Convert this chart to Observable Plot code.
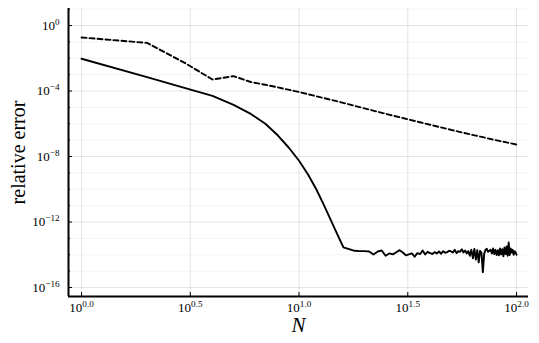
<!DOCTYPE html>
<html><head><meta charset="utf-8">
<script src="https://cdn.jsdelivr.net/npm/d3@7"></script>
<script src="https://cdn.jsdelivr.net/npm/@observablehq/plot@0.6"></script>
<style>
html,body{margin:0;padding:0;background:#fff;}
svg{overflow:visible;}
</style>
</head><body><div id="chart"></div>
<script>
// axis setup (exponents of 10)
const xTickExps = [0.0, 0.5, 1.0, 1.5, 2.0];
const xTickLabels = ["0.0", "0.5", "1.0", "1.5", "2.0"];
const yMajorExps = [0, -4, -8, -12, -16];
const yMajorLabels = ["0", "\u22124", "\u22128", "\u221212", "\u221216"];
const yMinorExps = [1, -1, -2, -3, -5, -6, -7, -9, -10, -11, -13, -14, -15];
const xDomainExps = [-0.06, 2.055];
const yDomainExps = [-16.55, 1.04];
const xLabel = "N";
const yLabel = "relative error";

// solid series: N and log10(relative error)
const solidN = [1,2,3,4,5,6,7,8,9,10,11,12,13,14,15,16,17,18,19,20,
  21,22,23,24,25,26,27,28,29,30,31,32,33,34,35,36,37,38,39,40,
  41,42,43,44,45,46,47,48,49,50,51,52,53,54,55,56,57,58,59,60,
  61,62,63,64,65,66,67,68,69,70,71,72,73,74,75,76,77,78,79,80,
  81,82,83,84,85,86,87,88,89,90,91,92,93,94,95,96,97,98,99,100];
const solidLog = [
  -2.03, -3.15, -3.82, -4.30, -4.85, -5.40, -6.00, -6.72, -7.48, -8.26,
  -9.10, -10.00, -10.95, -11.88, -12.75, -13.55, -13.66, -13.76, -13.78, -13.78,
  -13.80, -13.98, -13.80, -13.74, -14.06, -13.92, -13.98, -13.85, -13.72, -13.86,
  -14.04, -13.98, -13.92, -14.12, -13.90, -13.96, -13.74, -13.98, -13.82, -13.90,
  -13.95, -13.84, -13.92, -13.80, -13.94, -13.78, -13.88, -13.84, -13.76, -13.80,
  -13.86, -13.70, -13.90, -13.78, -13.82, -13.66, -13.86, -13.74, -13.92, -13.78,
  -14.06, -13.70, -14.22, -13.64, -14.30, -13.72, -14.46, -13.76, -13.88, -15.06,
  -13.94, -13.70, -13.64, -13.82, -13.76, -13.70, -13.92, -13.62, -13.96, -13.70,
  -14.02, -13.72, -14.04, -13.62, -13.98, -13.66, -14.10, -13.56, -13.96, -13.50,
  -14.06, -13.25, -14.02, -13.62, -13.86, -13.70, -14.00, -13.78, -13.86, -14.00];

// dashed series
const dashedN = [1, 2, 3, 4, 5, 6, 7, 8, 10, 12, 15, 20, 25, 30, 40, 50, 60, 70, 80, 90, 100];
const dashedLog = [-0.73, -1.06, -2.30, -3.30, -3.09, -3.45, -3.62, -3.78, -4.06, -4.32, -4.63,
  -5.06, -5.39, -5.65, -6.06, -6.37, -6.62, -6.82, -7.00, -7.14, -7.27];

const pow = e => Math.pow(10, e);
const xTicks = xTickExps.map(pow);
const yMajor = yMajorExps.map(pow);
const yMinor = yMinorExps.map(pow);
const xDomain = xDomainExps.map(pow);
const yDomain = yDomainExps.map(pow);
const xTickData = xTickExps.map((e, i) => ({v: pow(e), label: xTickLabels[i]}));
const yTickData = yMajorExps.map((e, i) => ({v: pow(e), label: yMajorLabels[i]}));
const tickLabelSet = new Set([...xTickLabels, ...yMajorLabels]);

const solidData = solidN.map((n, i) => ({N: n, err: pow(solidLog[i])}));
const dashedData = dashedN.map((n, i) => ({N: n, err: pow(dashedLog[i])}));

const serif = "'Liberation Serif', 'Times New Roman', serif";

const plot = Plot.plot({
  width: 539, height: 343,
  marginLeft: 68, marginRight: 11, marginTop: 8, marginBottom: 47,
  style: {fontFamily: serif, fontSize: "13px", background: "white", color: "black"},
  x: {type: "log", domain: xDomain},
  y: {type: "log", domain: yDomain},
  marks: [
    Plot.gridY(yMinor, {stroke: "black", strokeOpacity: 0.05, strokeWidth: 1}),
    Plot.gridY(yMajor, {stroke: "black", strokeOpacity: 0.1, strokeWidth: 1}),
    Plot.gridX(xTicks, {stroke: "black", strokeOpacity: 0.1, strokeWidth: 1}),
    Plot.axisY(yMajor, {tickSize: -4, tickFormat: () => "", label: null}),
    Plot.axisY(yMinor, {tickSize: -2, tickFormat: () => "", label: null}),
    Plot.axisX(xTicks, {tickSize: -4, tickFormat: () => "", label: null}),
    Plot.text(yTickData, {y: "v", text: "label", frameAnchor: "left", textAnchor: "end", lineAnchor: "middle",
      dx: -9, fontSize: 13, fontFamily: serif}),
    Plot.text(xTickData, {x: "v", text: "label", frameAnchor: "bottom", textAnchor: "middle", lineAnchor: "top",
      dy: 6, fontSize: 13, fontFamily: serif}),
    Plot.line(dashedData, {x: "N", y: "err", stroke: "black", strokeWidth: 1.9, strokeDasharray: "5,3"}),
    Plot.line(solidData, {x: "N", y: "err", stroke: "black", strokeWidth: 1.9}),
    Plot.ruleX([xDomain[0]], {stroke: "black", strokeWidth: 2}),
    Plot.ruleY([yDomain[0]], {stroke: "black", strokeWidth: 2}),
    Plot.text([yLabel], {text: d => d, frameAnchor: "left", textAnchor: "middle", dx: -50, rotate: -90, fontSize: 20, fontFamily: serif}),
    Plot.text([xLabel], {text: d => d, frameAnchor: "bottom", textAnchor: "middle", dy: 35, fontSize: 21, fontStyle: "italic", fontFamily: serif})
  ]
});

d3.select(plot).selectAll("text").each(function() {
  const t = this.textContent;
  if (!tickLabelSet.has(t)) return;
  const sel = d3.select(this);
  sel.text("10");
  sel.append("tspan").attr("dy", "-0.55em").attr("font-size", "0.7em").text(t);
});

document.getElementById("chart").appendChild(plot);
</script>
</body></html>
